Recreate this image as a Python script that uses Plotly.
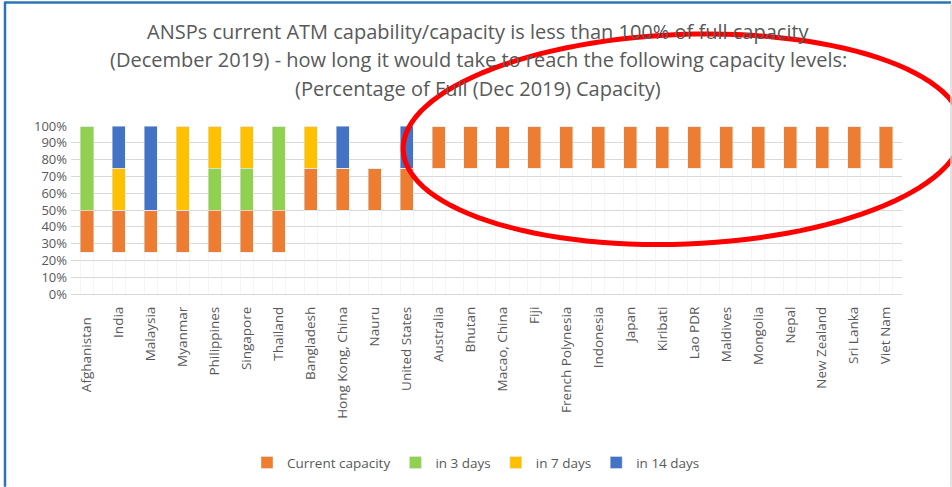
import math
import plotly.graph_objects as go

countries = ["Afghanistan", "India", "Malaysia", "Myanmar", "Philippines", "Singapore",
             "Thailand", "Bangladesh", "Hong Kong, China", "Nauru", "United States",
             "Australia", "Bhutan", "Macao, China", "Fiji", "French Polynesia",
             "Indonesia", "Japan", "Kiribati", "Lao PDR", "Maldives", "Mongolia",
             "Nepal", "New Zealand", "Sri Lanka", "Viet Nam"]
# hidden offset (capacity level below the current capacity band)
base = [0.25, 0.25, 0.25, 0.25, 0.25, 0.25, 0.25, 0.50, 0.50, 0.50, 0.50,
        0.75, 0.75, 0.75, 0.75, 0.75, 0.75, 0.75, 0.75, 0.75, 0.75, 0.75,
        0.75, 0.75, 0.75, 0.75]
current = [0.25] * 26
in3 = [0.50, 0, 0, 0, 0.25, 0.25, 0.50, 0, 0, 0, 0] + [0] * 15
in7 = [0, 0.25, 0, 0.50, 0.25, 0.25, 0, 0.25, 0, 0, 0] + [0] * 15
in14 = [0, 0.25, 0.50, 0, 0, 0, 0, 0, 0.25, 0, 0.25] + [0] * 15

title_lines = ["ANSPs current ATM capability/capacity is less than 100% of full capacity",
               "(December 2019) - how long it would take to reach the following capacity levels:",
               "(Percentage of Full (Dec 2019) Capacity)"]

FONT = "Open Sans"
GREY = "#595959"

# plot area in pixels
L, R, T, B = 71, 902, 125.7, 294.0
W, H = 952, 487

def X(px):
    return (px - L) / (R - L)

def Y(py):
    return (B - py) / (B - T)

labels = list(countries)
labels[0] = "Afghanistan" + "\u00a0" * 3

fig = go.Figure()
fig.add_bar(x=labels, y=base, marker_color="rgba(0,0,0,0)", showlegend=False,
            hoverinfo="skip")
fig.add_bar(x=labels, y=current, name="Current capacity", marker_color="#ED7D31")
fig.add_bar(x=labels, y=in3, name="in 3 days", marker_color="#92D050")
fig.add_bar(x=labels, y=in7, name="in 7 days", marker_color="#FFC000")
fig.add_bar(x=labels, y=in14, name="in 14 days", marker_color="#4472C4")

shapes = []
# red ellipse (rotated) drawn as path
cx, cy, a, b, phi = 683, 139, 280, 105, math.radians(-2.2)
pts = []
for i in range(121):
    t = 2 * math.pi * i / 120
    x = cx + a * math.cos(t) * math.cos(phi) - b * math.sin(t) * math.sin(phi)
    y = cy + a * math.cos(t) * math.sin(phi) + b * math.sin(t) * math.cos(phi)
    pts.append((X(x), Y(y)))
path = "M" + " L".join(f"{p[0]:.5f},{p[1]:.5f}" for p in pts) + " Z"
shapes.append(dict(type="path", xref="paper", yref="paper", path=path,
                   line=dict(color="#FF0000", width=5), layer="above"))
# frame
shapes.append(dict(type="line", xref="paper", yref="paper", x0=X(5), x1=X(951),
                   y0=Y(2), y1=Y(2), line=dict(color="#2E75B6", width=2.5)))
shapes.append(dict(type="line", xref="paper", yref="paper", x0=X(5), x1=X(5),
                   y0=Y(1), y1=Y(487), line=dict(color="#2E75B6", width=2.5)))
shapes.append(dict(type="line", xref="paper", yref="paper", x0=X(951), x1=X(951),
                   y0=Y(3), y1=Y(487), line=dict(color="#D9D9D9", width=1.5)))

annotations = []
for i, (txt, py) in enumerate(zip(title_lines, [31, 59.5, 88])):
    annotations.append(dict(text=txt, xref="paper", yref="paper", x=X(478), y=Y(py),
                            xanchor="center", yanchor="middle", showarrow=False,
                            font=dict(family=FONT, size=20, color=GREY)))

fig.update_layout(
    width=W, height=H,
    margin=dict(l=L, r=W - R, t=T, b=H - B, pad=0, autoexpand=False),
    barmode="stack", bargap=0.59,
    paper_bgcolor="white", plot_bgcolor="white",
    font=dict(family=FONT, color=GREY),
    shapes=shapes, annotations=annotations,
    legend=dict(orientation="h", x=X(476), xanchor="center", y=Y(463), yanchor="middle",
                font=dict(family=FONT, size=13.5, color=GREY), traceorder="normal",
                itemclick=False),
    xaxis=dict(tickangle=-90, tickfont=dict(family=FONT, size=13.5, color=GREY),
               showgrid=False, showline=False, ticks="", ticklabelstandoff=9),
    yaxis=dict(range=[0, 1.0001], dtick=0.1, tickformat=".0%", showgrid=True,
               gridcolor="#D9D9D9", gridwidth=1, zeroline=True, zerolinecolor="#D9D9D9",
               zerolinewidth=1, tickfont=dict(family=FONT, size=13, color=GREY),
               ticks="", ticklabelstandoff=3),
    showlegend=True,
)
fig.write_html("out.html", config={"displayModeBar": False},
               post_script="document.body.style.margin='0';")
